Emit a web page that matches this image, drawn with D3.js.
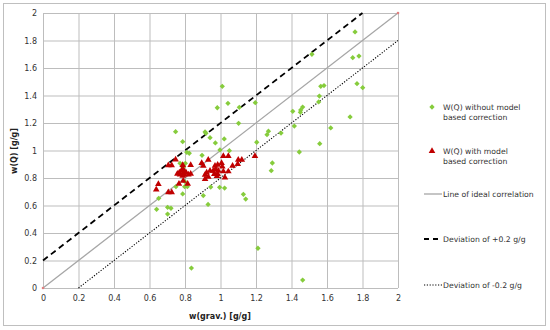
<!DOCTYPE html>
<html>
<head>
<meta charset="utf-8">
<script src="https://cdn.jsdelivr.net/npm/d3@7"></script>
<style>
  body { margin: 0; background: #fff; }
  text { font-family: "DejaVu Sans", Verdana, sans-serif; }
</style>
</head>
<body>
<div id="root"></div>
<script>
// values: [w(grav.), w(Q)]
var withoutModel = [
  [1.758,1.862],[1.515,1.70],[1.745,1.675],[1.78,1.687],[1.01,1.467],[1.565,1.467],
  [1.583,1.472],[1.769,1.486],[1.801,1.457],[1.557,1.396],[1.553,1.353],[1.042,1.343],
  [0.982,1.311],[1.106,1.314],[1.196,1.348],[1.407,1.285],[1.452,1.295],[1.45,1.278],
  [1.463,1.316],[1.73,1.244],[1.102,1.198],[1.416,1.178],[1.621,1.164],[0.913,1.135],
  [0.918,1.125],[0.941,1.093],[1.27,1.14],[1.262,1.115],[1.341,1.127],[0.787,1.064],
  [1.021,1.084],[0.971,1.055],[1.204,1.06],[1.559,1.05],[0.81,0.987],[0.824,0.98],
  [1.05,0.999],[0.896,0.965],[1.444,0.989],[1.292,0.909],[1.286,0.853],[1.129,0.681],
  [1.142,0.647],[1.211,0.289],[0.836,0.145],[1.463,0.058],[1.023,0.727],[0.995,0.732],
  [0.945,0.734],[0.903,0.672],[0.93,0.608],[0.787,0.684],[0.798,0.737],[0.813,0.737],
  [0.747,1.137],[0.772,0.907],[0.787,0.882],[0.749,0.737],[0.652,0.652],[0.64,0.572],
  [0.702,0.587],[0.721,0.58],[0.702,0.538],[0.802,0.907],[0.997,1.004],[0.79,0.878],
  [0.794,0.839],[0.8,0.773]
];
var withModel = [
  [0.747,0.93],[0.706,0.888],[0.725,0.888],[0.787,0.89],[0.832,0.89],[0.781,0.853],
  [0.768,0.836],[0.79,0.836],[0.806,0.836],[0.757,0.826],[0.832,0.826],[0.787,0.812],
  [0.79,0.776],[0.766,0.754],[0.815,0.754],[0.65,0.752],[0.638,0.712],[0.706,0.692],
  [0.725,0.692],[0.772,0.822],[0.794,0.822],[0.819,0.822],[0.79,0.86],[0.894,0.905],
  [0.931,0.928],[0.903,0.885],[0.969,0.885],[0.984,0.892],[1.006,0.905],[1.01,0.88],
  [1.016,0.955],[1.044,0.955],[1.1,0.928],[1.12,0.928],[1.097,0.898],[1.068,0.885],
  [1.044,0.844],[1.016,0.844],[1.025,0.8],[0.941,0.849],[0.959,0.849],[0.973,0.862],
  [0.988,0.849],[0.922,0.836],[0.913,0.82],[0.931,0.805],[0.965,0.825],[0.984,0.825],
  [0.913,0.788],[1.194,0.955],[0.98,0.81]
];
var idealLine = [[0,0],[2,2]];
var plusLine = [[0,0.2],[1.8,2]];
var minusLine = [[0.2,0],[2,1.8]];
var tickValues = [0,0.2,0.4,0.6,0.8,1,1.2,1.4,1.6,1.8,2];
var tickLabels = ["0","0.2","0.4","0.6","0.8","1","1.2","1.4","1.6","1.8","2"];
var legendLabels = [
  ["W(Q) without model","based correction"],
  ["W(Q) with model","based correction"],
  ["Line of ideal correlation"],
  ["Deviation of +0.2 g/g"],
  ["Deviation of -0.2 g/g"]
];

var width = 550, height = 330;
var green = "#86cc3c", red = "#c00000", gridColor = "#bdbdbd";

var svg = d3.select("#root").append("svg")
  .attr("width", width)
  .attr("height", height);

// outer frame
svg.append("rect")
  .attr("x", 3.5).attr("y", 3.5)
  .attr("width", 542).attr("height", 322)
  .attr("fill", "#fff")
  .attr("stroke", "#bfbfbf");

var x = d3.scaleLinear().domain([0, 2]).range([43, 398]);
var y = d3.scaleLinear().domain([0, 2]).range([288, 13]);

// grid + ticks
var xAxis = d3.axisBottom(x).tickValues(tickValues)
  .tickSize(-(y(0) - y(2))).tickPadding(7)
  .tickFormat(function(d, i){ return tickLabels[i]; });
var yAxis = d3.axisLeft(y).tickValues(tickValues)
  .tickSize(-(x(2) - x(0))).tickPadding(6)
  .tickFormat(function(d, i){ return tickLabels[i]; });

var gx = svg.append("g").attr("transform", "translate(0," + y(0) + ")").call(xAxis);
var gy = svg.append("g").attr("transform", "translate(" + x(0) + ",0)").call(yAxis);
[gx, gy].forEach(function(g){
  g.select(".domain").remove();
  g.selectAll(".tick line").attr("stroke", gridColor).attr("stroke-width", 1);
  g.selectAll(".tick text").attr("fill", "#333").style("font-size", "8px");
});

var line = d3.line().x(function(d){ return x(d[0]); }).y(function(d){ return y(d[1]); });

svg.append("path").datum(idealLine).attr("d", line)
  .attr("fill", "none").attr("stroke", "#a6a6a6").attr("stroke-width", 1.3);
svg.append("path").datum(plusLine).attr("d", line)
  .attr("fill", "none").attr("stroke", "#000").attr("stroke-width", 1.8)
  .attr("stroke-dasharray", "6,4");
svg.append("path").datum(minusLine).attr("d", line)
  .attr("fill", "none").attr("stroke", "#000").attr("stroke-width", 1.1)
  .attr("stroke-dasharray", "1.2,1.6");

// tiny end markers of the ideal line
svg.selectAll(".idealEnd").data(idealLine).enter().append("circle")
  .attr("cx", function(d){ return x(d[0]); })
  .attr("cy", function(d){ return y(d[1]); })
  .attr("r", 1.3).attr("fill", "#e08080");

// square turned 45deg gives the Excel-like diamond
var diamond = d3.symbol().type(d3.symbolSquare).size(14);
var triangle = d3.symbol().type(d3.symbolTriangle).size(19);

svg.selectAll(".g-pt").data(withoutModel).enter().append("path")
  .attr("d", diamond)
  .attr("transform", function(d){ return "translate(" + x(d[0]) + "," + y(d[1]) + ") rotate(45)"; })
  .attr("fill", green);

svg.selectAll(".r-pt").data(withModel).enter().append("path")
  .attr("d", triangle)
  .attr("transform", function(d){ return "translate(" + x(d[0]) + "," + (y(d[1]) - 0.5) + ")"; })
  .attr("fill", red);

// axis titles
svg.append("text")
  .attr("x", 220).attr("y", 319)
  .attr("text-anchor", "middle")
  .style("font-size", "8px").style("font-weight", "bold").attr("fill", "#222")
  .text("w(grav.) [g/g]");
svg.append("text")
  .attr("transform", "translate(17,151) rotate(-90)")
  .attr("text-anchor", "middle")
  .style("font-size", "8px").style("font-weight", "bold").attr("fill", "#222")
  .text("w(Q) [g/g]");

// legend
var legY = [107, 151, 194, 239, 285];
var leg = svg.append("g");
leg.append("path").attr("d", diamond)
  .attr("transform", "translate(432," + legY[0] + ") rotate(45)").attr("fill", green);
leg.append("path").attr("d", triangle)
  .attr("transform", "translate(432," + legY[1] + ")").attr("fill", red);
leg.append("line").attr("x1", 424).attr("x2", 442).attr("y1", legY[2]).attr("y2", legY[2])
  .attr("stroke", "#a6a6a6").attr("stroke-width", 1.3);
leg.append("line").attr("x1", 424).attr("x2", 442).attr("y1", legY[3]).attr("y2", legY[3])
  .attr("stroke", "#000").attr("stroke-width", 1.8).attr("stroke-dasharray", "5,4");
leg.append("line").attr("x1", 424).attr("x2", 442).attr("y1", legY[4]).attr("y2", legY[4])
  .attr("stroke", "#000").attr("stroke-width", 1.1).attr("stroke-dasharray", "1.2,1.6");

legendLabels.forEach(function(lines, i){
  var t = leg.append("text")
    .attr("x", 443)
    .attr("y", legY[i] + 2.6)
    .attr("fill", "#333")
    .style("font-size", "7.7px");
  lines.forEach(function(s, j){
    t.append("tspan").attr("x", 443).attr("dy", j === 0 ? 0 : 10).text(s);
  });
});
</script>
</body>
</html>
